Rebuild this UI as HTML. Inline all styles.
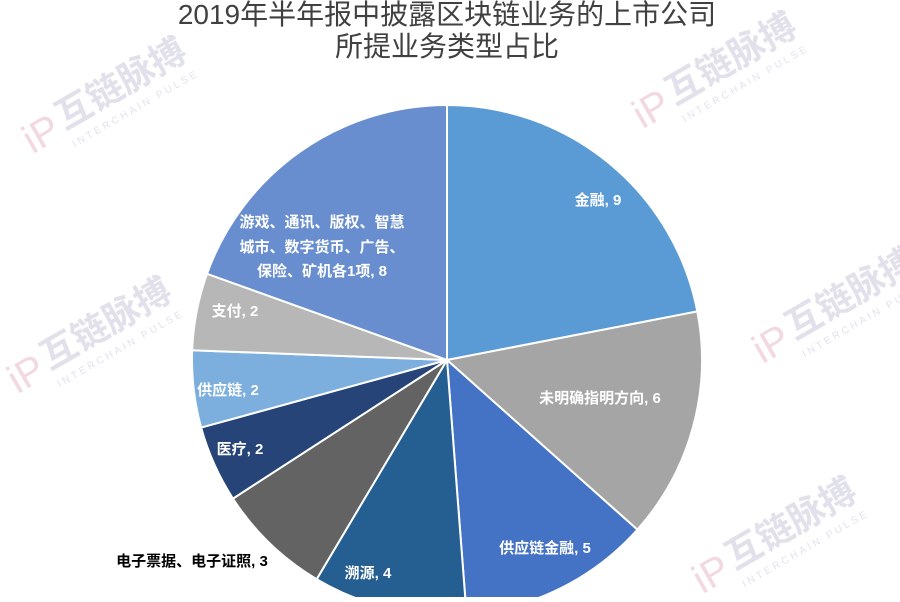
<!DOCTYPE html>
<html><head><meta charset="utf-8"><style>
body{margin:0;background:#fff;width:900px;height:597px;overflow:hidden;font-family:"Liberation Sans","Noto Sans CJK SC",sans-serif}
</style></head><body>
<svg id="s" width="900" height="597" xmlns="http://www.w3.org/2000/svg">
<g fill="#c9c9dc" opacity="0.55" font-family="Liberation Sans, Noto Sans CJK SC, sans-serif">
<g transform="translate(30,150) rotate(-30)"><text x="40" y="0" font-size="36" font-weight="bold">互链脉搏</text><text x="40" y="20" font-size="10" letter-spacing="3">INTERCHAIN PULSE</text><text x="0" y="5" font-size="40" fill="#e8b8c8">iP</text></g>
<g transform="translate(640,125) rotate(-30)"><text x="40" y="0" font-size="36" font-weight="bold">互链脉搏</text><text x="40" y="20" font-size="10" letter-spacing="3">INTERCHAIN PULSE</text><text x="0" y="5" font-size="40" fill="#e8b8c8">iP</text></g>
<g transform="translate(15,390) rotate(-30)"><text x="40" y="0" font-size="36" font-weight="bold">互链脉搏</text><text x="40" y="20" font-size="10" letter-spacing="3">INTERCHAIN PULSE</text><text x="0" y="5" font-size="40" fill="#e8b8c8">iP</text></g>
<g transform="translate(760,360) rotate(-30)"><text x="40" y="0" font-size="36" font-weight="bold">互链脉搏</text><text x="40" y="20" font-size="10" letter-spacing="3">INTERCHAIN PULSE</text><text x="0" y="5" font-size="40" fill="#e8b8c8">iP</text></g>
<g transform="translate(700,590) rotate(-30)"><text x="40" y="0" font-size="36" font-weight="bold">互链脉搏</text><text x="40" y="20" font-size="10" letter-spacing="3">INTERCHAIN PULSE</text><text x="0" y="5" font-size="40" fill="#e8b8c8">iP</text></g>
</g>
<g id="pie"></g>
<g font-size="28" fill="#404040" text-anchor="middle">
<text x="447" y="24">2019年半年报中披露区块链业务的上市公司</text>
<text x="447" y="56">所提业务类型占比</text>
</g>
<g font-size="15" font-weight="bold" fill="#fff" text-anchor="middle">
<text x="598" y="205">金融, 9</text>
<text x="600" y="403">未明确指明方向, 6</text>
<text x="545" y="553">供应链金融, 5</text>
<text x="368" y="578">溯源, 4</text>
<text x="240" y="454">医疗, 2</text>
<text x="228" y="395">供应链, 2</text>
<text x="235" y="316">支付, 2</text>
<text x="322" y="227">游戏、通讯、版权、智慧</text>
<text x="322" y="252">城市、数字货币、广告、</text>
<text x="322" y="276">保险、矿机各1项, 8</text>
<text x="192" y="566" fill="#000">电子票据、电子证照, 3</text>
</g>
</svg>
<script>
var d=[[9,"#5B9BD5"],[6,"#A5A5A5"],[5,"#4472C4"],[4,"#255E91"],[3,"#636363"],[2,"#264478"],[2,"#7CAFDD"],[2,"#B7B7B7"],[8,"#698ED0"]];
var cx=447,cy=360,r=255,a=0,h="";
function p(t){return [cx+r*Math.sin(t),cy-r*Math.cos(t)];}
d.forEach(function(e){var b=a+e[0]/41*2*Math.PI,s=p(a),f=p(b);
h+='<path d="M'+cx+','+cy+'L'+s[0]+','+s[1]+'A'+r+','+r+' 0 '+(b-a>Math.PI?1:0)+' 1 '+f[0]+','+f[1]+'Z" fill="'+e[1]+'" stroke="#fff" stroke-width="2"/>';a=b;});
document.getElementById("pie").innerHTML=h;
</script>
</body></html>
